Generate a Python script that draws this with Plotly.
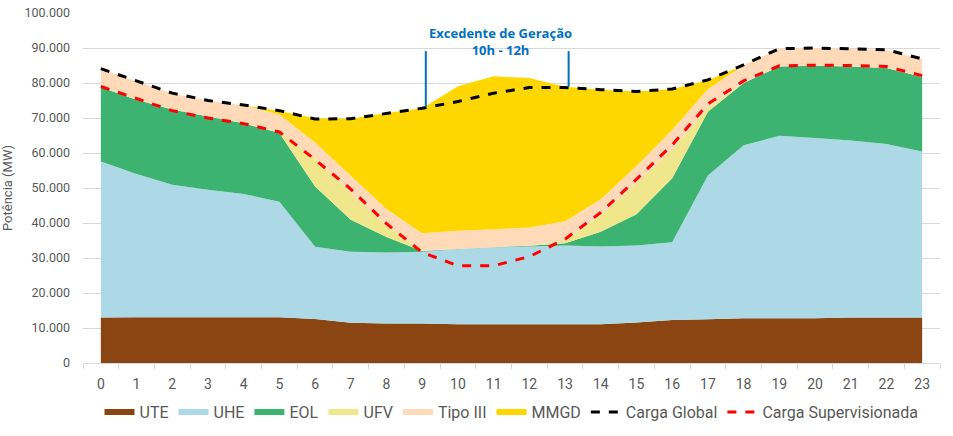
import plotly.graph_objects as go

# Hourly generation by source (MW)
horas = [str(h) for h in range(24)]

ute = [13000, 13100, 13100, 13100, 13100, 13100, 12600, 11500, 11300, 11300, 11100, 11100,
       11100, 11100, 11100, 11600, 12300, 12500, 12800, 12800, 12800, 13000, 13000, 13000]
uhe = [44600, 40900, 37800, 36400, 35200, 33000, 20600, 20300, 20300, 20500, 21400, 21900,
       22200, 22500, 22200, 22000, 22200, 41100, 49400, 52100, 51500, 50600, 49600, 47400]
eol = [21200, 21200, 21500, 20900, 20200, 19600, 17200, 9100, 4400, 200, 100, 100,
       200, 600, 4200, 8900, 18300, 18200, 17800, 19800, 20600, 21100, 21700, 21300]
ufv = [0, 0, 0, 0, 0, 300, 8100, 7600, 3300, 100, 0, 0,
       0, 800, 4800, 9000, 8200, 1200, 0, 0, 0, 0, 0, 0]
tipo3 = [5200, 5200, 4600, 4600, 5100, 5000, 4500, 5000, 4700, 5000, 5200, 5100,
         5200, 5500, 4500, 4800, 5600, 5300, 5000, 5100, 5100, 5100, 5100, 5100]
mmgd = [0, 0, 0, 0, 0, 1000, 6900, 16300, 27400, 35700, 41300, 43700,
        42700, 38400, 31300, 21300, 11700, 2500, 100, 0, 0, 0, 0, 0]

carga_global = [84100, 80500, 77100, 75000, 73700, 72100, 69700, 69800, 71400, 72800, 74700, 77100,
                78700, 78700, 78100, 77600, 78300, 80900, 85200, 89800, 90000, 89800, 89500, 86900]
carga_sup = [79000, 75500, 72100, 70000, 68400, 66000, 58100, 49700, 39800, 31600, 27800, 27800,
             30400, 35400, 43000, 52500, 62300, 74000, 80600, 84900, 85100, 85000, 84700, 82100]

fontes = [
    ("UTE", ute, "#8B4513"),
    ("UHE", uhe, "#ADD8E6"),
    ("EOL", eol, "#3CB371"),
    ("UFV", ufv, "#F0E68C"),
    ("Tipo III", tipo3, "#FFDAB9"),
    ("MMGD", mmgd, "#FFD700"),
]

fig = go.Figure()
for nome, valores, cor in fontes:
    fig.add_trace(go.Scatter(x=horas, y=valores, name=nome, stackgroup="geracao",
                             mode="none", fillcolor=cor))

fig.add_trace(go.Scatter(x=horas, y=carga_global, name="Carga Global", mode="lines",
                         line=dict(color="black", width=3, dash="dash")))
fig.add_trace(go.Scatter(x=horas, y=carga_sup, name="Carga Supervisionada", mode="lines",
                         line=dict(color="#FF0000", width=3, dash="dash")))

# Marcadores do excedente
azul = "#0070C0"
fig.add_shape(type="line", x0=9.1, x1=9.1, y0=89100, y1=73200, xref="x", yref="y",
              line=dict(color=azul, width=2))
fig.add_shape(type="line", x0=13.1, x1=13.1, y0=89100, y1=78900, xref="x", yref="y",
              line=dict(color=azul, width=2))
fig.add_annotation(x=11.2, y=92000, xref="x", yref="y", showarrow=False,
                   text="<b>Excedente de Geração<br>10h - 12h</b>",
                   font=dict(color=azul, size=13, family="Open Sans"))

fig.update_layout(
    width=953, height=436,
    margin=dict(l=83, r=13, t=13, b=73, autoexpand=False),
    plot_bgcolor="white", paper_bgcolor="white",
    separators=",.",
    font=dict(family="Roboto", size=12, color="#595959"),
    showlegend=True,
    legend=dict(orientation="h", x=0.5, xanchor="center", y=0.055, yanchor="middle",
                yref="container",
                font=dict(size=16, color="#595959", family="Roboto"),
                itemwidth=30, traceorder="normal"),
)
fig.update_xaxes(type="category", range=[-0.5, 23.5], showgrid=False, showline=True,
                 linecolor="#D9D9D9", ticks="outside", tickson="boundaries",
                 tickcolor="#D9D9D9", ticklen=5, tickfont=dict(size=14),
                 ticklabelstandoff=8, automargin=False)
fig.update_yaxes(range=[0, 100000], dtick=10000, tickformat=",d", showgrid=True,
                 gridcolor="#D9D9D9", zeroline=False, tickfont=dict(size=12.5),
                 ticklabelstandoff=12, ticklabeloverflow="allow", automargin=False,
                 title=dict(text="Potência (MW)", font=dict(size=13), standoff=15))

# remove the default 8px page margin so the figure fills the window
fig.write_html("out.html", config={"displayModeBar": False},
               post_script="document.body.style.margin='0';")
